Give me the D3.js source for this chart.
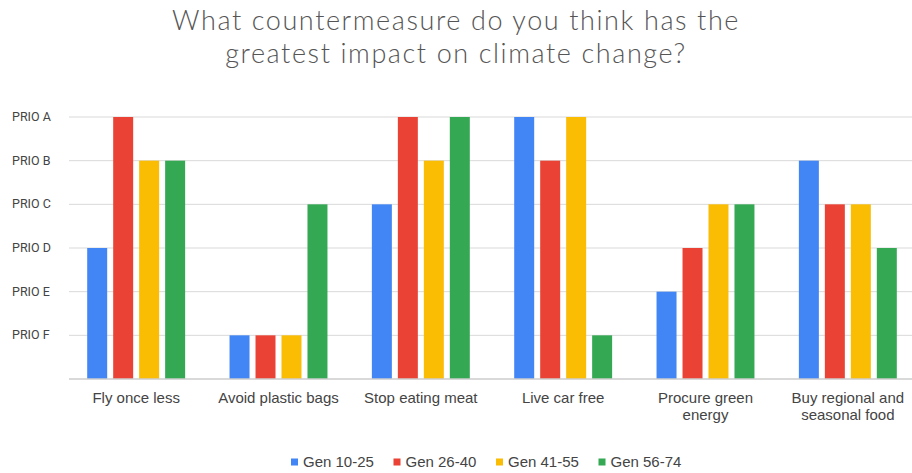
<!DOCTYPE html>
<html>
<head>
<meta charset="utf-8">
<script src="https://cdn.jsdelivr.net/npm/d3@7"></script>
<style>
  body { margin: 0; background: #fff; }
  svg { display: block; }
</style>
</head>
<body>
<div id="chart"></div>
<script>
// chart data
var categories = ["Fly once less", "Avoid plastic bags", "Stop eating meat", "Live car free", "Procure green energy", "Buy regional and seasonal food"];
var catLines = [["Fly once less"], ["Avoid plastic bags"], ["Stop eating meat"], ["Live car free"], ["Procure green", "energy"], ["Buy regional and", "seasonal food"]];
var seriesNames = ["Gen 10-25", "Gen 26-40", "Gen 41-55", "Gen 56-74"];
var seriesColors = ["#4285F4", "#EA4335", "#FBBC04", "#34A853"];
// 1 = PRIO F ... 6 = PRIO A
var gen1025 = [3, 1, 4, 6, 2, 5];
var gen2640 = [6, 1, 6, 5, 3, 4];
var gen4155 = [5, 1, 5, 6, 4, 4];
var gen5674 = [5, 4, 6, 1, 4, 3];
var tickLabels = ["PRIO F", "PRIO E", "PRIO D", "PRIO C", "PRIO B", "PRIO A"];
var tickValues = [1, 2, 3, 4, 5, 6];

var series = [gen1025, gen2640, gen4155, gen5674];

var width = 912, height = 473;

var svg = d3.select("#chart").append("svg")
  .attr("width", width)
  .attr("height", height);

// title, two lines
var titleLines = ["What countermeasure do you think has the", "greatest impact on climate change?"];
svg.append("g").selectAll("text")
  .data(titleLines)
  .enter().append("text")
  .attr("text-anchor", "middle")
  .attr("x", 456)
  .attr("y", function(d, i) { return 30 + i * 33; })
  .text(function(d) { return d; })
  .style("font-family", "Lato, 'Open Sans', sans-serif")
  .style("font-weight", 300)
  .style("font-size", "27px")
  .style("letter-spacing", "1.6px")
  .style("fill", "#555");

var x0 = d3.scaleBand()
  .domain(categories)
  .range([65, 919])
  .paddingInner(0.312)
  .paddingOuter(0.156);

var x1 = d3.scaleBand()
  .domain(d3.range(seriesNames.length))
  .range([0, x0.bandwidth()])
  .paddingInner(0.2308);

var y = d3.scaleLinear()
  .domain([0, 6])
  .range([379, 117]);

// gridlines
svg.append("g").selectAll("line")
  .data(tickValues)
  .enter().append("line")
  .attr("x1", 69).attr("x2", 912)
  .attr("y1", function(d) { return y(d); })
  .attr("y2", function(d) { return y(d); })
  .style("stroke", "#d9d9d9")
  .style("stroke-width", 1);

// y labels
svg.append("g").selectAll("text")
  .data(tickValues)
  .enter().append("text")
  .attr("x", 12)
  .attr("y", function(d) { return y(d) + 4; })
  .text(function(d, i) { return tickLabels[i]; })
  .style("font-family", "Roboto, Arial, sans-serif")
  .style("font-size", "12.5px")
  .style("fill", "#444");

// bars
var groups = svg.append("g").selectAll("g")
  .data(categories)
  .enter().append("g")
  .attr("transform", function(d) { return "translate(" + x0(d) + ",0)"; });

groups.selectAll("rect")
  .data(function(d, i) { return series.map(function(s, k) { return {k: k, v: s[i]}; }); })
  .enter().append("rect")
  .attr("x", function(d) { return x1(d.k); })
  .attr("width", x1.bandwidth())
  .attr("y", function(d) { return y(d.v); })
  .attr("height", function(d) { return y(0) - y(d.v); })
  .style("fill", function(d) { return seriesColors[d.k]; });

// baseline
svg.append("line")
  .attr("x1", 69).attr("x2", 912)
  .attr("y1", y(0)).attr("y2", y(0))
  .style("stroke", "#ccc")
  .style("stroke-width", 1.5);

// x labels
var xl = svg.append("g").selectAll("text")
  .data(categories)
  .enter().append("text")
  .attr("text-anchor", "middle")
  .style("font-family", "Arial, 'Liberation Sans', sans-serif")
  .style("font-size", "15px")
  .style("fill", "#444");
xl.each(function(d, i) {
  var t = d3.select(this);
  catLines[i].forEach(function(line, j) {
    t.append("tspan")
      .attr("x", x0(d) + x0.bandwidth() / 2)
      .attr("y", 403 + j * 16.5)
      .text(line);
  });
});

// legend
var legend = svg.append("g").selectAll("g")
  .data(seriesNames)
  .enter().append("g")
  .attr("transform", function(d, i) { return "translate(" + (291 + i * 102.5) + ",462)"; });
legend.append("rect")
  .attr("x", 0).attr("y", -3.5)
  .attr("width", 7).attr("height", 7)
  .style("fill", function(d, i) { return seriesColors[i]; });
legend.append("text")
  .attr("x", 12).attr("y", 5)
  .text(function(d) { return d; })
  .style("font-family", "Arial, 'Liberation Sans', sans-serif")
  .style("font-size", "15px")
  .style("fill", "#444");
</script>
</body>
</html>
